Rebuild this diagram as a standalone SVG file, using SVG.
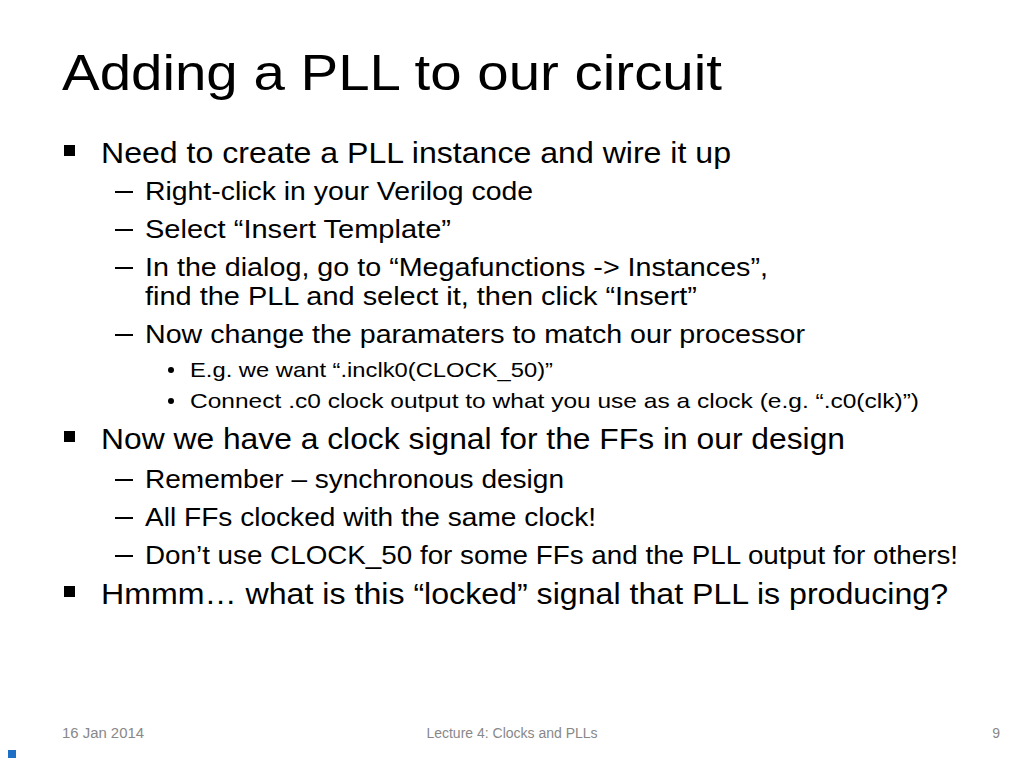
<svg xmlns="http://www.w3.org/2000/svg" width="1024" height="768" viewBox="0 0 1024 768">
<style>
text{font-family:"Liberation Sans",Arial,sans-serif;fill:#000}
.t{font-size:50px}
.l1{font-size:30px}
.l2{font-size:26px}
.l3{font-size:21px}
.f{font-size:14px;fill:#888}
</style>
<rect width="1024" height="768" fill="#fff"/>
<text class="t" x="62" y="90" textLength="660" lengthAdjust="spacingAndGlyphs">Adding a PLL to our circuit</text>
<g fill="#000">
<rect x="64" y="145" width="11" height="11"/>
<rect x="64" y="431" width="11" height="11"/>
<rect x="64" y="586" width="11" height="11"/>
<rect x="115" y="191" width="18" height="2"/>
<rect x="115" y="229" width="18" height="2"/>
<rect x="115" y="267" width="18" height="2"/>
<rect x="115" y="334" width="18" height="2"/>
<rect x="115" y="479" width="18" height="2"/>
<rect x="115" y="517" width="18" height="2"/>
<rect x="115" y="555" width="18" height="2"/>
<circle cx="171" cy="370" r="3"/>
<circle cx="171" cy="401" r="3"/>
</g>
<text class="l1" x="101" y="163" textLength="630" lengthAdjust="spacingAndGlyphs">Need to create a PLL instance and wire it up</text>
<text class="l2" x="145" y="200" textLength="388" lengthAdjust="spacingAndGlyphs">Right-click in your Verilog code</text>
<text class="l2" x="145" y="238" textLength="306" lengthAdjust="spacingAndGlyphs">Select “Insert Template”</text>
<text class="l2" x="145" y="276" textLength="623" lengthAdjust="spacingAndGlyphs">In the dialog, go to “Megafunctions -&gt; Instances”,</text>
<text class="l2" x="145" y="305" textLength="552" lengthAdjust="spacingAndGlyphs">find the PLL and select it, then click “Insert”</text>
<text class="l2" x="145" y="343" textLength="660" lengthAdjust="spacingAndGlyphs">Now change the paramaters to match our processor</text>
<text class="l3" x="190" y="377" textLength="363" lengthAdjust="spacingAndGlyphs">E.g. we want “.inclk0(CLOCK_50)”</text>
<text class="l3" x="190" y="408" textLength="729" lengthAdjust="spacingAndGlyphs">Connect .c0 clock output to what you use as a clock (e.g. “.c0(clk)”)</text>
<text class="l1" x="101" y="449" textLength="744" lengthAdjust="spacingAndGlyphs">Now we have a clock signal for the FFs in our design</text>
<text class="l2" x="145" y="488" textLength="419" lengthAdjust="spacingAndGlyphs">Remember – synchronous design</text>
<text class="l2" x="145" y="526" textLength="451" lengthAdjust="spacingAndGlyphs">All FFs clocked with the same clock!</text>
<text class="l2" x="145" y="564" textLength="813" lengthAdjust="spacingAndGlyphs">Don’t use CLOCK_50 for some FFs and the PLL output for others!</text>
<text class="l1" x="101" y="604" textLength="847" lengthAdjust="spacingAndGlyphs">Hmmm… what is this “locked” signal that PLL is producing?</text>
<text class="f" x="62" y="738" textLength="82" lengthAdjust="spacingAndGlyphs">16 Jan 2014</text>
<text class="f" x="512" y="738" text-anchor="middle">Lecture 4: Clocks and PLLs</text>
<text class="f" x="1000" y="738" text-anchor="end">9</text>
<rect x="8" y="750" width="8" height="8" fill="#1f6fc5"/>
</svg>
